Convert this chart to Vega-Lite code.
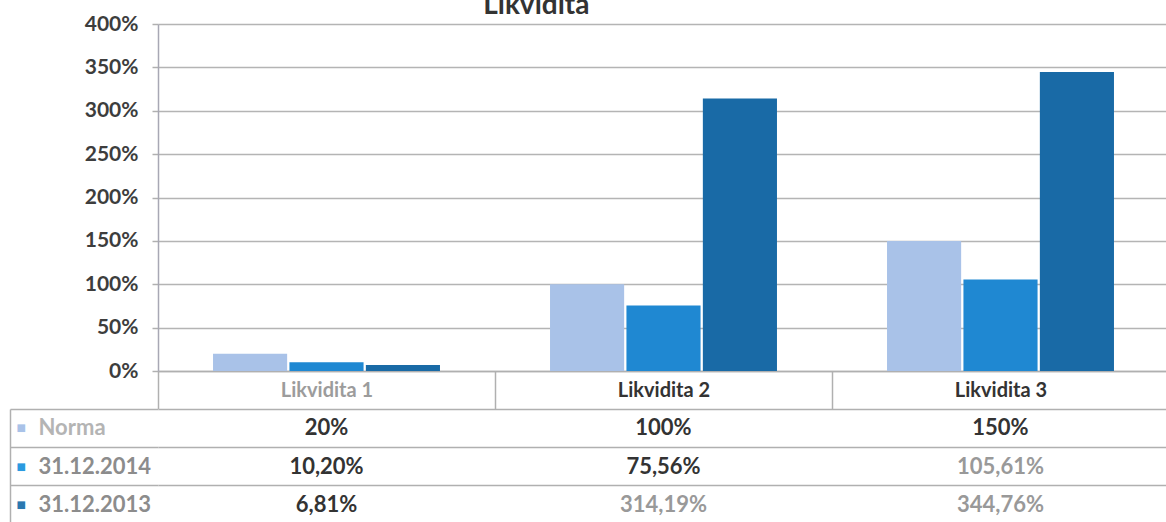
{
  "$schema": "https://vega.github.io/schema/vega-lite/v6.json",
  "padding": {"left": 9, "top": -8, "right": 0, "bottom": 0},
  "background": "white",
  "config": {"view": {"stroke": null}, "font": "Lato", "concat": {"spacing": 38}},
  "title": {"text": "Likvidita", "font": "Lato", "fontSize": 28, "fontWeight": "bold", "color": "#333333", "anchor": "start", "dx": 474, "offset": -7},
  "datasets": {
    "vals": [
      {"cat": "Likvidita 1", "series": "Norma", "value": 20, "label": "20%"},
      {"cat": "Likvidita 1", "series": "31.12.2014", "value": 10.2, "label": "10,20%"},
      {"cat": "Likvidita 1", "series": "31.12.2013", "value": 6.81, "label": "6,81%"},
      {"cat": "Likvidita 2", "series": "Norma", "value": 100, "label": "100%"},
      {"cat": "Likvidita 2", "series": "31.12.2014", "value": 75.56, "label": "75,56%"},
      {"cat": "Likvidita 2", "series": "31.12.2013", "value": 314.19, "label": "314,19%"},
      {"cat": "Likvidita 3", "series": "Norma", "value": 150, "label": "150%"},
      {"cat": "Likvidita 3", "series": "31.12.2014", "value": 105.61, "label": "105,61%"},
      {"cat": "Likvidita 3", "series": "31.12.2013", "value": 344.76, "label": "344,76%"}
    ]
  },
  "bounds": "flush",
  "vconcat": [
    {
      "width": 1011,
      "height": 347,
      "data": {"name": "vals"},
      "mark": {"type": "bar"},
      "encoding": {
        "x": {
          "field": "cat", "type": "nominal",
          "scale": {"paddingInner": 0, "paddingOuter": 0},
          "axis": {
            "title": null, "labelAngle": 0, "tickBand": "extent", "tickSize": 38,
            "tickColor": "#b0b0b0", "tickWidth": 1.5, "domainColor": "#b0b0b0", "domainWidth": 1.5,
            "labelPadding": -19, "labelBaseline": "middle", "labelFont": "Lato",
            "labelFontWeight": "bold", "labelFontSize": 20,
            "labelColor": {"condition": {"test": "datum.value === 'Likvidita 1'", "value": "#9c9c9c"}, "value": "#333333"}
          }
        },
        "xOffset": {
          "field": "series", "type": "nominal",
          "sort": ["Norma", "31.12.2014", "31.12.2013"],
          "scale": {"paddingInner": 0.03, "paddingOuter": 0.72}
        },
        "y": {
          "field": "value", "type": "quantitative",
          "scale": {"domain": [0, 400], "nice": false},
          "axis": {
            "title": null, "values": [0, 50, 100, 150, 200, 250, 300, 350, 400],
            "labelExpr": "datum.value + '%'", "labelFont": "Lato", "labelFontWeight": "bold",
            "labelFontSize": 21, "labelColor": "#3d3d3d", "labelPadding": 14,
            "tickSize": 6, "tickColor": "#b0b0b0", "tickWidth": 1.5,
            "domainColor": "#a8a8b4", "domainWidth": 1.5,
            "gridColor": "#b4b4b4", "gridWidth": 1.5
          }
        },
        "color": {
          "field": "series", "type": "nominal",
          "scale": {"domain": ["Norma", "31.12.2014", "31.12.2013"], "range": ["#a9c2e8", "#1f88d2", "#196aa6"]},
          "legend": null
        }
      }
    },
    {
      "width": 1011,
      "height": 115,
      "data": {"name": "vals"},
      "layer": [
        {
          "mark": {"type": "rect", "fill": "white"},
          "encoding": {
            "x": {"field": "cat", "type": "nominal", "scale": {"paddingInner": 0, "paddingOuter": 0}, "axis": null},
            "y": {
              "field": "series", "type": "nominal", "sort": ["Norma", "31.12.2014", "31.12.2013"],
              "scale": {"paddingInner": 0, "paddingOuter": 0},
              "axis": {
                "title": null, "orient": "left", "offset": 148, "domain": false, "ticks": false, "grid": false,
                "labelExpr": "'■'", "labelFont": "DejaVu Sans", "labelFontSize": 10, "labelAlign": "left",
                "labelBaseline": "middle", "labelPadding": -6,
                "labelColor": {"condition": [
                  {"test": "datum.value === 'Norma'", "value": "#a9c2e8"},
                  {"test": "datum.value === '31.12.2014'", "value": "#2a9ae0"}
                ], "value": "#2a78b0"}
              }
            }
          }
        },
        {
          "mark": {"type": "text", "font": "Lato", "fontWeight": "bold", "fontSize": 22},
          "encoding": {
            "x": {
              "field": "cat", "type": "nominal", "scale": {"paddingInner": 0, "paddingOuter": 0},
              "axis": {"title": null, "labels": false, "ticks": false, "domain": false, "grid": true,
                       "bandPosition": 0, "gridColor": "#b0b0b0", "gridWidth": 1.5, "zindex": 1}
            },
            "y": {
              "field": "series", "type": "nominal", "sort": ["Norma", "31.12.2014", "31.12.2013"],
              "scale": {"paddingInner": 0, "paddingOuter": 0},
              "axis": {
                "title": null, "orient": "left", "offset": 148, "zindex": 1,
                "domain": true, "domainColor": "#b0b0b0", "domainWidth": 1.5,
                "ticks": true, "tickSize": -148, "tickColor": "#b0b0b0", "tickWidth": 1.5,
                "grid": true, "bandPosition": 0, "gridColor": "#b0b0b0", "gridWidth": 1.5,
                "labelFont": "Lato", "labelFontWeight": "bold", "labelFontSize": 22,
                "labelAlign": "left", "labelBaseline": "middle", "labelPadding": 120,
                "labelColor": {"condition": {"test": "datum.value === 'Norma'", "value": "#b4b4b4"}, "value": "#8c8c8c"}
              }
            },
            "text": {"field": "label"},
            "color": {
              "condition": {"test": "indexof(['105,61%','314,19%','344,76%'], datum.label) >= 0", "value": "#999999"},
              "value": "#333333"
            }
          }
        }
      ],
      "resolve": {"axis": {"y": "independent"}}
    }
  ]
}
